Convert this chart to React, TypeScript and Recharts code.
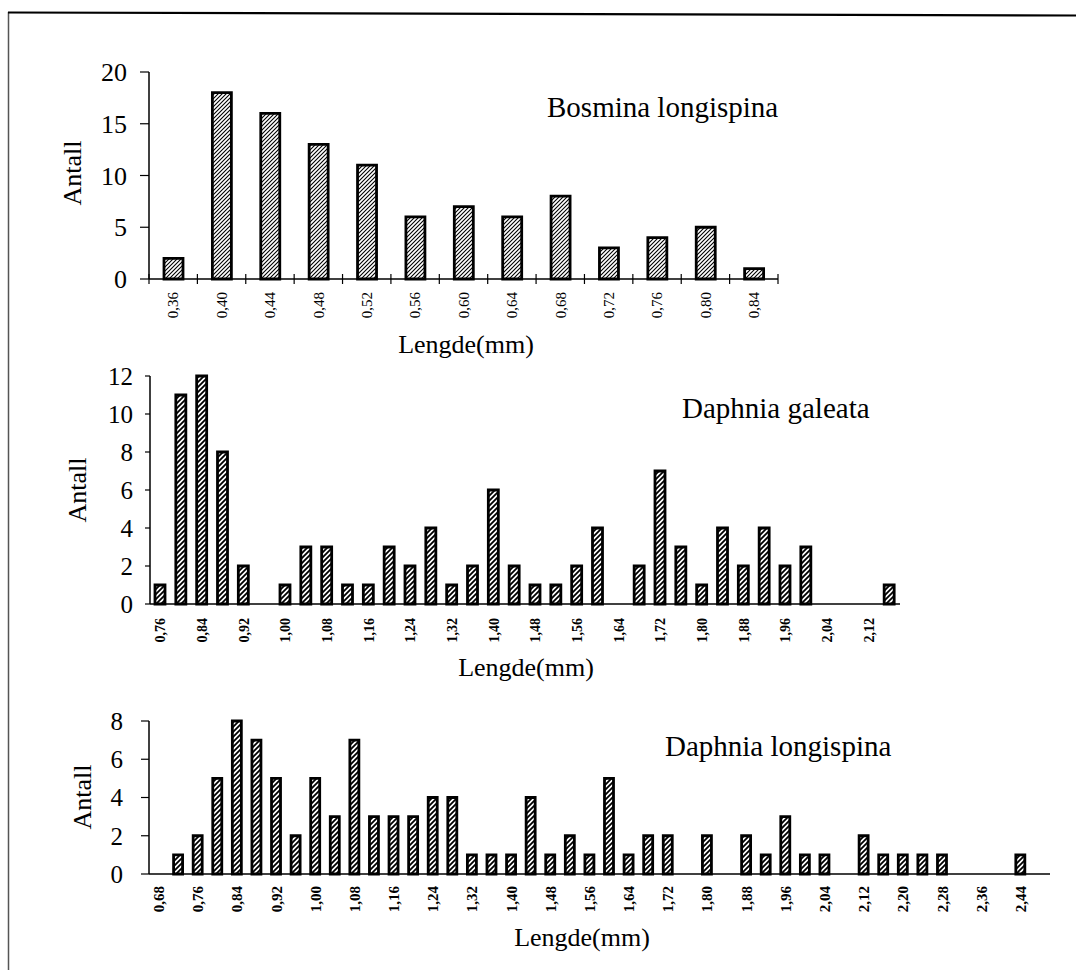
import React from 'react';
import { BarChart, Bar, XAxis, YAxis } from 'recharts';

// ---------- data ----------
const bosminaCats = ['0,36', '0,40', '0,44', '0,48', '0,52', '0,56', '0,60', '0,64', '0,68', '0,72', '0,76', '0,80', '0,84'];
const bosminaVals = [2, 18, 16, 13, 11, 6, 7, 6, 8, 3, 4, 5, 1];
const bosminaTicks = [0, 5, 10, 15, 20];

const galeataCats = [
  '0,76', '0,80', '0,84', '0,88', '0,92', '0,96', '1,00', '1,04', '1,08', '1,12', '1,16', '1,20',
  '1,24', '1,28', '1,32', '1,36', '1,40', '1,44', '1,48', '1,52', '1,56', '1,60', '1,64', '1,68',
  '1,72', '1,76', '1,80', '1,84', '1,88', '1,92', '1,96', '2,00', '2,04', '2,08', '2,12', '2,16',
];
const galeataVals = [1, 11, 12, 8, 2, 0, 1, 3, 3, 1, 1, 3, 2, 4, 1, 2, 6, 2, 1, 1, 2, 4, 0, 2, 7, 3, 1, 4, 2, 4, 2, 3, 0, 0, 0, 1];
const galeataTicks = [0, 2, 4, 6, 8, 10, 12];

const longispinaCats = [
  '0,68', '0,72', '0,76', '0,80', '0,84', '0,88', '0,92', '0,96', '1,00', '1,04', '1,08', '1,12',
  '1,16', '1,20', '1,24', '1,28', '1,32', '1,36', '1,40', '1,44', '1,48', '1,52', '1,56', '1,60',
  '1,64', '1,68', '1,72', '1,76', '1,80', '1,84', '1,88', '1,92', '1,96', '2,00', '2,04', '2,08',
  '2,12', '2,16', '2,20', '2,24', '2,28', '2,32', '2,36', '2,40', '2,44', '2,48',
];
const longispinaVals = [0, 1, 2, 5, 8, 7, 5, 2, 5, 3, 7, 3, 3, 3, 4, 4, 1, 1, 1, 4, 1, 2, 1, 5, 1, 2, 2, 0, 2, 0, 2, 1, 3, 1, 1, 0, 2, 1, 1, 1, 1, 0, 0, 0, 1, 0];
const longispinaTicks = [0, 2, 4, 6, 8];

const titles = ['Bosmina longispina', 'Daphnia galeata', 'Daphnia longispina'];
const xTitle = 'Lengde(mm)';
const yTitle = 'Antall';

const toRows = (cats: string[], vals: number[]) => cats.map((c, i) => ({ c, v: vals[i] }));

const FONT = '"Liberation Serif", "Times New Roman", serif';

const makeTick = (opts: { every: number; bold: boolean; gap: number; marks: boolean; n: number; fs: number }) => (props: any) => {
  const { x, y, payload, index } = props;
  const half = payload && typeof payload.offset === 'number' ? payload.offset : 10;
  const ty = y + opts.gap;
  const showLabel = index % opts.every === 0;
  return (
    <g>
      {opts.marks && <line x1={x - half} x2={x - half} y1={y - 5} y2={y + 5} stroke="#000" strokeWidth={1.2} />}
      {opts.marks && index === opts.n - 1 && (
        <line x1={x + half} x2={x + half} y1={y - 5} y2={y + 5} stroke="#000" strokeWidth={1.2} />
      )}
      {showLabel && (
        <text
          x={x}
          y={ty}
          dy="0.35em"
          textAnchor="end"
          transform={`rotate(-90, ${x}, ${ty})`}
          fontFamily={FONT}
          fontSize={opts.fs}
          fontWeight={opts.bold ? 'bold' : 'normal'}
          fill="#000"
        >
          {payload.value}
        </text>
      )}
    </g>
  );
};

const Hatch = () => (
  <svg width={0} height={0} style={{ position: 'absolute' }}>
    <defs>
      <pattern id="hatch" patternUnits="userSpaceOnUse" width={4} height={4}>
        <rect width={4} height={4} fill="#fff" />
        <path d="M-1,1 l2,-2 M0,4 l4,-4 M3,5 l2,-2" stroke="#000" strokeWidth={1.1} />
      </pattern>
      <pattern id="hatchNarrow" patternUnits="userSpaceOnUse" width={5} height={5}>
        <rect width={5} height={5} fill="#fff" />
        <path d="M-1,1 l2,-2 M0,5 l5,-5 M4,6 l2,-2" stroke="#000" strokeWidth={1.8} />
      </pattern>
    </defs>
  </svg>
);

type PanelProps = {
  top: number;
  height: number;
  marginTop: number;
  plotH: number;
  left: number;
  right: number;
  rows: { c: string; v: number }[];
  yTicks: number[];
  yMax: number;
  barSize: number;
  barStroke: number;
  fill: string;
  tickSize: number;
  tickMargin: number;
  yFont: number;
  tick: (p: any) => React.ReactElement;
};

const Panel = (p: PanelProps) => (
  <div style={{ position: 'absolute', left: 0, top: p.top, width: 1076, height: p.height }}>
    <BarChart
      width={1076}
      height={p.height}
      data={p.rows}
      margin={{ top: p.marginTop, right: 1076 - p.right, left: 0, bottom: 0 }}
      barCategoryGap="10%"
    >
      <XAxis
        dataKey="c"
        interval={0}
        tick={p.tick}
        tickLine={false}
        tickSize={0}
        tickMargin={0}
        height={p.height - p.marginTop - p.plotH}
        axisLine={{ stroke: '#000', strokeWidth: 1.5 }}
      />
      <YAxis
        type="number"
        domain={[0, p.yMax]}
        ticks={p.yTicks}
        width={p.left}
        tickSize={p.tickSize}
        tickMargin={p.tickMargin}
        axisLine={{ stroke: '#000', strokeWidth: 1.5 }}
        tickLine={{ stroke: '#000', strokeWidth: 1.2 }}
        tick={{ fontFamily: FONT, fontSize: p.yFont, fill: '#000' }}
      />
      <Bar dataKey="v" fill={p.fill} stroke="#000" strokeWidth={p.barStroke} barSize={p.barSize} isAnimationActive={false} />
    </BarChart>
  </div>
);

const Overlay = () => {
  const t = { fontFamily: FONT, fill: '#000' } as const;
  const antall = [
    [72, 173],
    [77, 490],
    [82, 797],
  ];
  return (
    <svg width={1076} height={970} style={{ position: 'absolute', left: 0, top: 0, pointerEvents: 'none' }}>
      <line x1={8.5} y1={12} x2={8.5} y2={970} stroke="#555" strokeWidth={1.5} />
      <line x1={8} y1={12.5} x2={1076} y2={15.5} stroke="#000" strokeWidth={2.2} />
      <text x={547} y={117} fontSize={29} {...t}>{titles[0]}</text>
      <text x={682} y={418} fontSize={29} {...t}>{titles[1]}</text>
      <text x={665} y={756} fontSize={29} {...t}>{titles[2]}</text>
      <text x={466} y={353} fontSize={26} textAnchor="middle" {...t}>{xTitle}</text>
      <text x={526} y={676} fontSize={26} textAnchor="middle" {...t}>{xTitle}</text>
      <text x={582} y={946} fontSize={26} textAnchor="middle" {...t}>{xTitle}</text>
      {antall.map(([cx, cy], i) => (
        <text
          key={i}
          x={cx}
          y={cy}
          fontSize={26}
          textAnchor="middle"
          dominantBaseline="central"
          transform={`rotate(-90, ${cx}, ${cy})`}
          {...t}
        >
          {yTitle}
        </text>
      ))}
    </svg>
  );
};

export default function App() {
  return (
    <div style={{ position: 'absolute', left: 0, top: 0, width: 1076, height: 970, background: '#fff', overflow: 'hidden' }}>
      <Hatch />
      <Panel
        top={0}
        height={370}
        marginTop={72}
        plotH={207}
        left={149}
        right={778}
        rows={toRows(bosminaCats, bosminaVals)}
        yTicks={bosminaTicks}
        yMax={20}
        barSize={19}
        barStroke={2.8}
        fill="url(#hatch)"
        tickSize={9}
        tickMargin={13}
        yFont={26}
        tick={makeTick({ every: 1, bold: false, gap: 13, marks: true, n: bosminaCats.length, fs: 15 })}
      />
      <Panel
        top={360}
        height={330}
        marginTop={16}
        plotH={228}
        left={150}
        right={900}
        rows={toRows(galeataCats, galeataVals)}
        yTicks={galeataTicks}
        yMax={12}
        barSize={10}
        barStroke={2.8}
        fill="url(#hatchNarrow)"
        tickSize={5}
        tickMargin={12}
        yFont={25}
        tick={makeTick({ every: 2, bold: true, gap: 14, marks: false, n: galeataCats.length, fs: 14 })}
      />
      <Panel
        top={690}
        height={280}
        marginTop={31}
        plotH={153}
        left={149}
        right={1050}
        rows={toRows(longispinaCats, longispinaVals)}
        yTicks={longispinaTicks}
        yMax={8}
        barSize={9}
        barStroke={2.8}
        fill="url(#hatchNarrow)"
        tickSize={8}
        tickMargin={18}
        yFont={25}
        tick={makeTick({ every: 2, bold: true, gap: 12, marks: false, n: longispinaCats.length, fs: 15 })}
      />
      <Overlay />
    </div>
  );
}
